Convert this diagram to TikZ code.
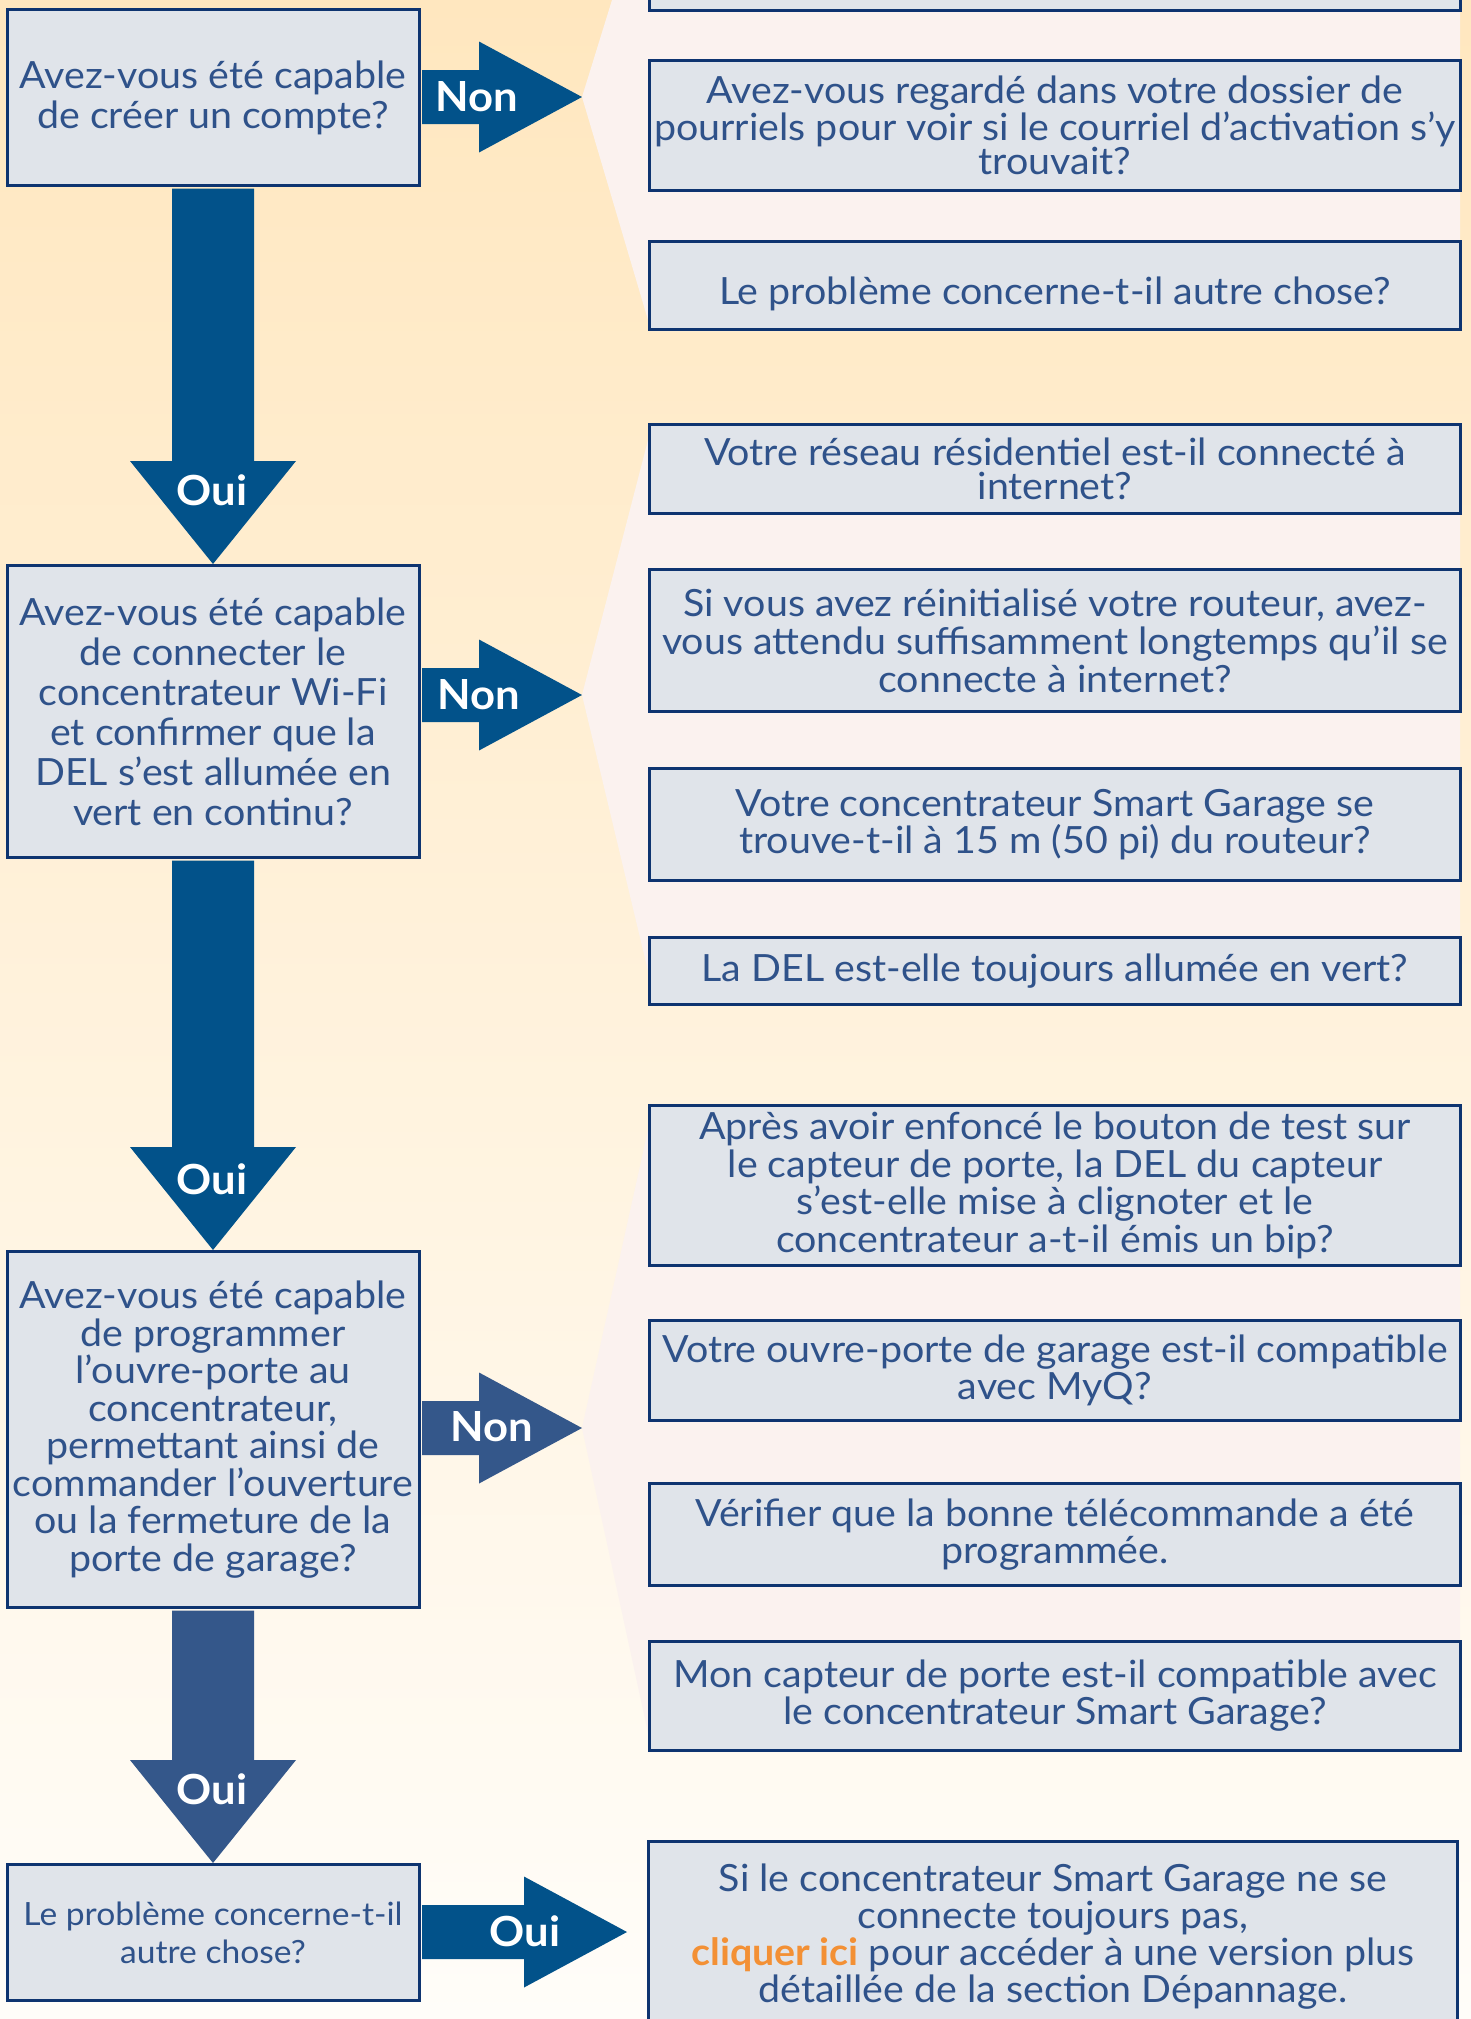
\documentclass[tikz,border=0pt]{standalone}
\usepackage{fontspec}
\setmainfont{Lato}[FakeStretch=1.05]
\usetikzlibrary{calc}

\definecolor{peachtop}{HTML}{FFE7BF}
\definecolor{peachmid}{HTML}{FFF1DC}
\definecolor{peachbot}{HTML}{FFFDF9}
\definecolor{fanpink}{HTML}{FBF2EF}
\definecolor{boxfill}{HTML}{E0E4EA}
\definecolor{boxline}{HTML}{0E3470}
\definecolor{textblue}{HTML}{2F528A}
\definecolor{arrowA}{HTML}{02528A}
\definecolor{arrowB}{HTML}{34578A}
\definecolor{linkorange}{HTML}{F39035}

\tikzset{
	qbox/.style={draw=boxline, line width=3pt, fill=boxfill, text=textblue, align=center, inner sep=0pt, minimum width=412pt},
	abox/.style={draw=boxline, line width=3pt, fill=boxfill, text=textblue, align=center, inner sep=0pt, minimum width=811pt},
	yesno/.style={text=white, font=\fontsize{41.5}{40}\selectfont\bfseries, inner sep=0pt}
}

\begin{document}
\begin{tikzpicture}[x=1pt, y=-1pt]
	\useasboundingbox (0,0) rectangle (1471,2019);
	\clip (0,0) rectangle (1471,2019);
	\shade [top color=peachtop, middle color=peachmid, bottom color=peachbot] (0,0) rectangle (1471,2019);
	% arrow tips on the right
	\coordinate (t1) at (582,97);
	\coordinate (t2) at (582,695);
	\coordinate (t3) at (582,1428);
	\coordinate (t4) at (627,1932);
	% fans behind the answer boxes
	\fill [fanpink] (t1) -- (612,0) -- (1460,0) -- (1460,331) -- (648,331) -- (648,320) -- cycle;
	\fill [fanpink] (t2) -- (648,440) -- (648,423) -- (1460,423) -- (1460,1006) -- (648,1006) -- (648,971) -- cycle;
	\fill [fanpink] (t3) -- (648,1130) -- (648,1104) -- (1460,1104) -- (1460,1752) -- (648,1752) -- (648,1733) -- cycle;

	\node [qbox, minimum height=176pt, font=\fontsize{37.5}{40}\selectfont] (q1) at (213,97.5) {Avez-vous été capable\\de créer un compte?};
	\node [qbox, minimum height=292pt, font=\fontsize{37.5}{40}\selectfont] (q2) at (213,711.5) {Avez-vous été capable\\de connecter le\\concentrateur Wi-Fi\\et confirmer que la\\DEL s’est allumée en\\vert en continu?};
	\node [qbox, minimum height=356pt, font=\fontsize{37.5}{37.5}\selectfont] (q3) at (213,1429.5) {Avez-vous été capable\\de programmer\\l’ouvre-porte au\\concentrateur,\\permettant ainsi de\\commander l’ouverture\\ou la fermeture de la\\porte de garage?};
	\node [qbox, minimum height=136pt, font=\fontsize{32}{38}\selectfont] (q4) at (213,1932.5) {Le problème concerne-t-il\\autre chose?};

	\node [abox, minimum height=69pt] (r0) at (1055,-24) {};
	\node [abox, minimum height=130pt, font=\fontsize{37.5}{34.5}\selectfont] (r1) at (1055,125.5) {Avez-vous regardé dans votre dossier de\\pourriels pour voir si le courriel d’activation s’y\\trouvait?};
	\node [abox, minimum height=88pt, text height=44pt, font=\fontsize{37.5}{37}\selectfont] (r2) at (1055,285.5) {Le problème concerne-t-il autre chose?};
	\node [abox, minimum height=89pt, font=\fontsize{37.5}{34}\selectfont] (r3) at (1055,469) {Votre réseau résidentiel est-il connecté à\\internet?};
	\node [abox, minimum height=142pt, font=\fontsize{37.5}{38}\selectfont] (r4) at (1055,640.5) {Si vous avez réinitialisé votre routeur, avez-\\vous attendu suffisamment longtemps qu’il se\\connecte à internet?};
	\node [abox, minimum height=112pt, font=\fontsize{37.5}{37.5}\selectfont] (r5) at (1055,824.5) {Votre concentrateur Smart Garage se\\trouve-t-il à 15 m (50 pi) du routeur?};
	\node [abox, minimum height=67pt, font=\fontsize{37.5}{37}\selectfont] (r6) at (1055,971) {La DEL est-elle toujours allumée en vert?};
	\node [abox, minimum height=160pt, font=\fontsize{37.5}{37.5}\selectfont] (r7) at (1055,1185.5) {Après avoir enfoncé le bouton de test sur\\le capteur de porte, la DEL du capteur\\s’est-elle mise à clignoter et le\\concentrateur a-t-il émis un bip?};
	\node [abox, minimum height=100pt, font=\fontsize{37.5}{37}\selectfont] (r8) at (1055,1370.5) {Votre ouvre-porte de garage est-il compatible\\avec MyQ?};
	\node [abox, minimum height=102pt, font=\fontsize{37.5}{37}\selectfont] (r9) at (1055,1534.5) {Vérifier que la bonne télécommande a été\\programmée.};
	\node [abox, minimum height=109pt, font=\fontsize{37.5}{37}\selectfont] (r10) at (1055,1696) {Mon capteur de porte est-il compatible avec\\le concentrateur Smart Garage?};
	\node [abox, minimum width=809pt, minimum height=192pt, font=\fontsize{37.5}{37}\selectfont] (r11) at (1053,1937) {Si le concentrateur Smart Garage ne se\\connecte toujours pas,\\{\color{linkorange}\bfseries cliquer ici} pour accéder à une version plus\\détaillée de la section Dépannage.};

	% down arrows
	\fill [arrowA] ($(q1.south)+(-41,1.5)$) -- ($(q2.north)+(-41,-103)$) -- ($(q2.north)+(-83,-103)$) -- (q2.north) -- ($(q2.north)+(83,-103)$) -- ($(q2.north)+(41,-103)$) -- ($(q1.south)+(41,1.5)$) -- cycle;
	\fill [arrowA] ($(q2.south)+(-41,1.5)$) -- ($(q3.north)+(-41,-103)$) -- ($(q3.north)+(-83,-103)$) -- (q3.north) -- ($(q3.north)+(83,-103)$) -- ($(q3.north)+(41,-103)$) -- ($(q2.south)+(41,1.5)$) -- cycle;
	\fill [arrowB] ($(q3.south)+(-41,1.5)$) -- ($(q4.north)+(-41,-103)$) -- ($(q4.north)+(-83,-103)$) -- (q4.north) -- ($(q4.north)+(83,-103)$) -- ($(q4.north)+(41,-103)$) -- ($(q3.south)+(41,1.5)$) -- cycle;
	% right arrows
	\fill [arrowA] ($(q1.east |- t1)+(1.5,-27)$) -- ($(t1)+(-103,-27)$) -- ($(t1)+(-103,-55.5)$) -- (t1) -- ($(t1)+(-103,55.5)$) -- ($(t1)+(-103,27)$) -- ($(q1.east |- t1)+(1.5,27)$) -- cycle;
	\fill [arrowA] ($(q2.east |- t2)+(1.5,-27)$) -- ($(t2)+(-103,-27)$) -- ($(t2)+(-103,-55.5)$) -- (t2) -- ($(t2)+(-103,55.5)$) -- ($(t2)+(-103,27)$) -- ($(q2.east |- t2)+(1.5,27)$) -- cycle;
	\fill [arrowB] ($(q3.east |- t3)+(1.5,-27)$) -- ($(t3)+(-103,-27)$) -- ($(t3)+(-103,-55.5)$) -- (t3) -- ($(t3)+(-103,55.5)$) -- ($(t3)+(-103,27)$) -- ($(q3.east |- t3)+(1.5,27)$) -- cycle;
	\fill [arrowA] ($(q4.east |- t4)+(1.5,-27)$) -- ($(t4)+(-103,-27)$) -- ($(t4)+(-103,-55.5)$) -- (t4) -- ($(t4)+(-103,55.5)$) -- ($(t4)+(-103,27)$) -- ($(q4.east |- t4)+(1.5,27)$) -- cycle;

	\node [yesno] (non1) at (477,97) {Non};
	\node [yesno] (non2) at (479,695) {Non};
	\node [yesno] (non3) at (492,1427) {Non};
	\node [yesno] (oui1) at (212,490) {Oui};
	\node [yesno] (oui2) at (212,1179) {Oui};
	\node [yesno] (oui3) at (212,1789) {Oui};
	\node [yesno] (oui4) at (525,1931) {Oui};
\end{tikzpicture}
\end{document}
